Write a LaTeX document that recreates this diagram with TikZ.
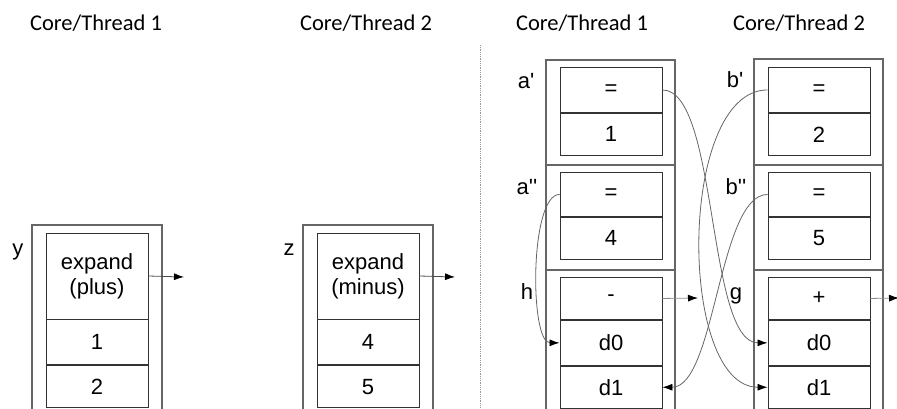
\documentclass[tikz,border=0pt]{standalone}
\usepackage{fontspec}
\setmainfont{Liberation Sans}
\newfontfamily\titlefont{Carlito}
\usetikzlibrary{arrows.meta}
\newcommand{\tk}{\textquotesingle}
\tikzset{
  cell/.style={draw=black!80, line width=0.9pt, minimum width=102pt, inner sep=0pt,
    align=center, font=\fontsize{22}{25}\selectfont},
  frame/.style={draw=black!60, line width=1.3pt},
  title/.style={font=\titlefont\fontsize{22.5}{26}\selectfont, anchor=base},
  lbl/.style={font=\fontsize{22}{26}\selectfont, anchor=base},
  conn/.style={draw=black!60, line width=0.8pt, -{Latex[length=10pt,width=7pt,color=black]}},
  outarrow/.style={draw=black!70, line width=0.8pt, -{Latex[length=10pt,width=7pt,color=black]}},
}
\begin{document}
\begin{tikzpicture}[x=1pt, y=-1pt]
\useasboundingbox (0,0) rectangle (897,409);

% column titles
\node[title] (t1) at (96,31) {Core/Thread 1};
\node[title] (t2) at (366,31) {Core/Thread 2};
\node[title] (t3) at (582,31) {Core/Thread 1};
\node[title] (t4) at (799,31) {Core/Thread 2};

% divider between the two halves
\draw[black!40, line width=0.8pt, densely dotted] (480,45) -- (480,409);

% ---- left half: y on thread 1 ----
\draw[frame] (32,409) -- (32,225) -- (162,225) -- (162,409);
\node[lbl] (ly) at (18,255) {y};
\node[cell, minimum height=86pt] (yexp) at (97,276) {expand\\(plus)};
\node[cell, minimum height=45pt, anchor=north] (y1) at (yexp.south) {1};
\node[cell, minimum height=42pt, anchor=north] (y2) at (y1.south) {2};
\coordinate (yout) at (184,277);
\draw[outarrow] (yexp.east) -- (yout);

% ---- left half: z on thread 2 ----
\draw[frame] (303,409) -- (303,225) -- (433,225) -- (433,409);
\node[lbl] (lz) at (289,255) {z};
\node[cell, minimum height=86pt] (zexp) at (368,276) {expand\\(minus)};
\node[cell, minimum height=45pt, anchor=north] (z1) at (zexp.south) {4};
\node[cell, minimum height=42pt, anchor=north] (z2) at (z1.south) {5};
\coordinate (zout) at (455,277);
\draw[outarrow] (zexp.east) -- (zout);

% ---- right half: thread 1 column ----
\draw[frame] (546,409) -- (546,60) -- (675,60) -- (675,409);
\draw[frame] (546,165) -- (675,165);
\draw[frame] (546,270) -- (675,270);
\node[lbl] (la1) at (526,89) {a\tk};
\node[lbl] (la2) at (527,194) {a\tk\tk};
\node[lbl] (lh) at (527,299) {h};
\node[cell, minimum height=45pt, anchor=north] (a1) at (611,67) {=};
\node[cell, minimum height=42pt, anchor=north] (a1v) at (a1.south) {1};
\node[cell, minimum height=44pt, anchor=north] (a2) at (611,172) {=};
\node[cell, minimum height=42pt, anchor=north] (a2v) at (a2.south) {4};
\node[cell, minimum height=42pt, anchor=north] (h) at (611,277) {-};
\node[cell, minimum height=45pt, anchor=north] (h0) at (h.south) {d0};
\node[cell, minimum height=42pt, anchor=north] (h1) at (h0.south) {d1};
\coordinate (hout) at (698,298);
\draw[outarrow, draw=black!45] (h.east) -- (hout);

% ---- right half: thread 2 column ----
\draw[frame] (754,409) -- (754,59) -- (883,59) -- (883,409);
\draw[frame] (754,165) -- (883,165);
\draw[frame] (754,270) -- (883,270);
\node[lbl] (lb1) at (735,88) {b\tk};
\node[lbl] (lb2) at (736,194) {b\tk\tk};
\node[lbl] (lg) at (736,299) {g};
\node[cell, minimum height=45pt, anchor=north] (b1) at (819,67) {=};
\node[cell, minimum height=42pt, anchor=north] (b1v) at (b1.south) {2};
\node[cell, minimum height=44pt, anchor=north] (b2) at (819,172) {=};
\node[cell, minimum height=42pt, anchor=north] (b2v) at (b2.south) {5};
\node[cell, minimum height=42pt, anchor=north] (g) at (819,277) {+};
\node[cell, minimum height=45pt, anchor=north] (g0) at (g.south) {d0};
\node[cell, minimum height=42pt, anchor=north] (g1) at (g0.south) {d1};
\coordinate (gout) at (899,298);
\draw[outarrow, draw=black!45] (g.east) -- (gout);

% operands feeding the two operations
\draw[conn] (a1.east) .. controls +(56,0) and +(-61,0) .. (g0.west);
\draw[conn] (b1.west) .. controls +(-90,0) and +(-90,0) .. (g1.west);
\draw[conn] (b2.west) .. controls +(-49,0) and +(53,0) .. (h1.east);
\draw[conn] (a2.west) .. controls +(-30,0) and +(-30,0) .. (h0.west);
\end{tikzpicture}
\end{document}
